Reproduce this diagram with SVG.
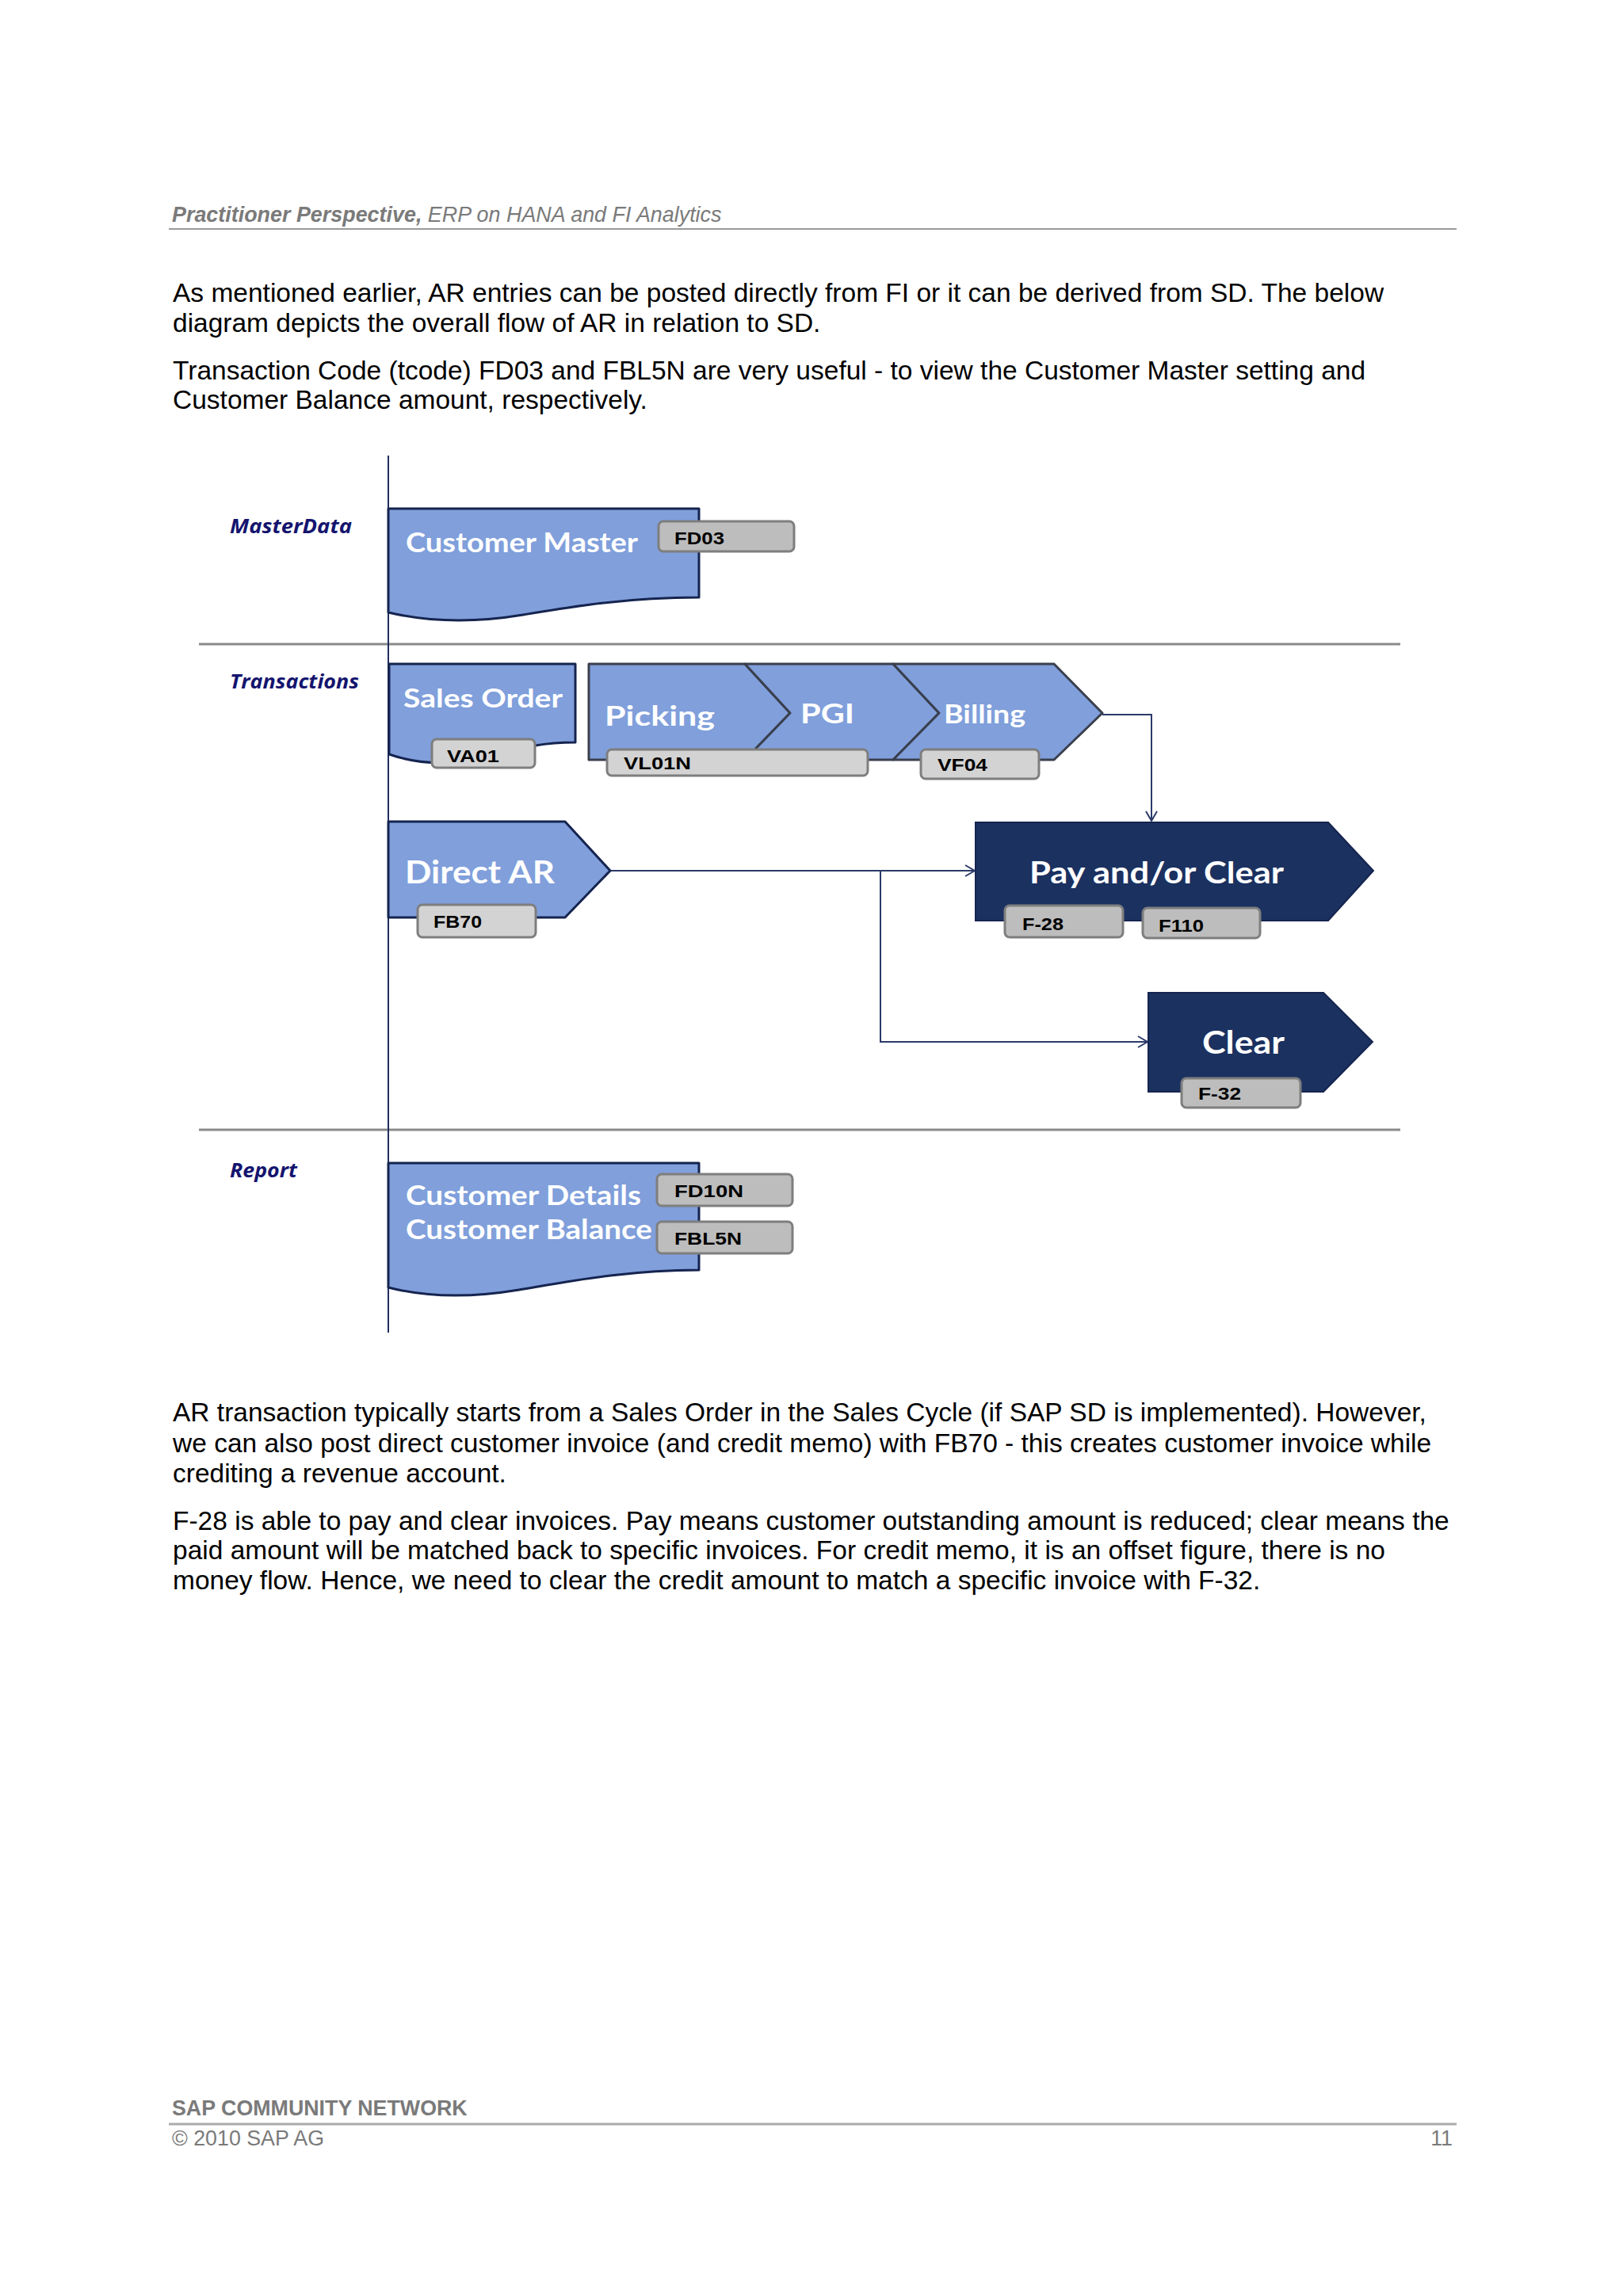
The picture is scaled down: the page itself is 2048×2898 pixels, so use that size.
<svg xmlns="http://www.w3.org/2000/svg" width="2048" height="2898" viewBox="0 0 2048 2898">
<defs>
<marker id="arr" markerWidth="18" markerHeight="18" refX="15" refY="9" orient="auto" markerUnits="userSpaceOnUse"><path d="M3,2 L15,9 L3,16" fill="none" stroke="#2a3a6a" stroke-width="2"/></marker>
<style>
.body{font-family:"Liberation Sans",Arial,sans-serif;font-size:33.5px;fill:#000}
.hdr{font-family:"Liberation Sans",Arial,sans-serif;font-size:26.9px;fill:#7a7a7a;font-style:italic}
.ftr{font-family:"Liberation Sans",Arial,sans-serif;font-size:26.8px;fill:#7a7a7a}
.lane{font-family:"Open Sans","DejaVu Sans",sans-serif;font-weight:bold;font-style:italic;font-size:25px;fill:#14146e}
.lt{fill:#809fdb;stroke:#15244f;stroke-width:3;stroke-linejoin:round}
.ch{fill:#809fdb;stroke:#3a3f4d;stroke-width:3;stroke-linejoin:round}
.dk{fill:#1b3160;stroke:#15244f;stroke-width:2}
.lbl{font-family:Lato,"Open Sans",sans-serif;font-weight:bold;fill:#fff}
.tag{fill:#bdbdbd;stroke:#7e7e7e;stroke-width:3}
.tag2{fill:#d3d3d3;stroke:#7e7e7e;stroke-width:3}
.tt{font-family:"Liberation Sans",Arial,sans-serif;font-weight:bold;font-size:22px;fill:#000}
.conn{fill:none;stroke:#2a3a6a;stroke-width:2}
.div{stroke:#8a8a8a;stroke-width:3}
</style>
</defs>
<rect x="0" y="0" width="2048" height="2898" fill="#fff"/>

<g id="header">
<text class="hdr" x="217" y="280"><tspan font-weight="bold">Practitioner Perspective,</tspan> ERP on HANA and FI Analytics</text>
<line x1="213" y1="289" x2="1838" y2="289" stroke="#9a9a9a" stroke-width="2"/>
</g>

<g id="intro">
<text class="body" x="218" y="381">As mentioned earlier, AR entries can be posted directly from FI or it can be derived from SD. The below</text>
<text class="body" x="218" y="419">diagram depicts the overall flow of AR in relation to SD.</text>
<text class="body" x="218" y="479">Transaction Code (tcode) FD03 and FBL5N are very useful - to view the Customer Master setting and</text>
<text class="body" x="218" y="516">Customer Balance amount, respectively.</text>
</g>

<g id="lanes">
<line class="div" x1="251" y1="813" x2="1767" y2="813"/>
<line class="div" x1="251" y1="1426" x2="1767" y2="1426"/>
<line x1="490" y1="575" x2="490" y2="1682" stroke="#1f2f5f" stroke-width="2"/>
<text class="lane" x="290" y="673" textLength="154" lengthAdjust="spacingAndGlyphs">MasterData</text>
<text class="lane" x="290" y="869" textLength="163" lengthAdjust="spacingAndGlyphs">Transactions</text>
<text class="lane" x="290" y="1486" textLength="85" lengthAdjust="spacingAndGlyphs">Report</text>
</g>

<g id="connectors">
<path class="conn" d="M1391,902 H1453 V1036" marker-end="url(#arr)"/>
<path class="conn" d="M770,1099 H1230" marker-end="url(#arr)"/>
<path class="conn" d="M1111,1099 V1315 H1448" marker-end="url(#arr)"/>
</g>

<g id="customer-master">
<path class="lt" d="M490,642 H882 V754 C790,754 720,766 660,776 C600,786 545,786 490,773 Z"/>
<text class="lbl" x="512" y="697" font-size="34" textLength="293" lengthAdjust="spacingAndGlyphs">Customer Master</text>
<rect class="tag" x="831" y="658" width="171" height="38" rx="6"/>
<text class="tt" x="851" y="687" textLength="63" lengthAdjust="spacingAndGlyphs">FD03</text>
</g>

<g id="sales-order">
<path class="lt" d="M491,838 H726 V937 C670,937 640,950 600,958 C560,966 525,964 491,952 Z"/>
<text class="lbl" x="509" y="893" font-size="32" textLength="201" lengthAdjust="spacingAndGlyphs">Sales Order</text>
<rect class="tag2" x="545" y="933" width="130" height="36" rx="6"/>
<text class="tt" x="564" y="962" textLength="66" lengthAdjust="spacingAndGlyphs">VA01</text>
</g>

<g id="picking">
<polygon class="ch" points="743,838 940,838 997,900 940,959 743,959"/>
<text class="lbl" x="763" y="916" font-size="35" textLength="139" lengthAdjust="spacingAndGlyphs">Picking</text>
</g>
<g id="pgi">
<polygon class="ch" points="940,838 1127,838 1185,900 1127,959 940,959 997,900"/>
<text class="lbl" x="1010" y="913" font-size="35" textLength="68" lengthAdjust="spacingAndGlyphs">PGI</text>
<rect class="tag2" x="766" y="946" width="329" height="33" rx="6"/>
<text class="tt" x="787" y="971" textLength="85" lengthAdjust="spacingAndGlyphs">VL01N</text>
</g>
<g id="billing">
<polygon class="ch" points="1127,838 1330,838 1391,900 1330,959 1127,959 1185,900"/>
<text class="lbl" x="1191" y="913" font-size="33" textLength="103" lengthAdjust="spacingAndGlyphs">Billing</text>
<rect class="tag2" x="1162" y="946" width="149" height="37" rx="6"/>
<text class="tt" x="1183" y="973" textLength="63" lengthAdjust="spacingAndGlyphs">VF04</text>
</g>

<g id="direct-ar">
<polygon class="lt" points="490,1037 713,1037 770,1099 713,1158 490,1158"/>
<text class="lbl" x="511" y="1115" font-size="40" textLength="189" lengthAdjust="spacingAndGlyphs">Direct AR</text>
<rect class="tag2" x="527" y="1142" width="149" height="41" rx="6"/>
<text class="tt" x="547" y="1171" textLength="61" lengthAdjust="spacingAndGlyphs">FB70</text>
</g>

<g id="pay-clear">
<polygon class="dk" points="1231,1038 1676,1038 1733,1099 1676,1162 1231,1162"/>
<text class="lbl" x="1299" y="1115" font-size="38" textLength="321" lengthAdjust="spacingAndGlyphs">Pay and/or Clear</text>
<rect class="tag" x="1268" y="1143" width="149" height="40" rx="6"/>
<text class="tt" x="1290" y="1174" textLength="52" lengthAdjust="spacingAndGlyphs">F-28</text>
<rect class="tag" x="1442" y="1146" width="148" height="38" rx="6"/>
<text class="tt" x="1462" y="1176" textLength="57" lengthAdjust="spacingAndGlyphs">F110</text>
</g>

<g id="clear">
<polygon class="dk" points="1449,1253 1670,1253 1732,1315 1670,1378 1449,1378"/>
<text class="lbl" x="1517" y="1330" font-size="40" textLength="104" lengthAdjust="spacingAndGlyphs">Clear</text>
<rect class="tag" x="1491" y="1361" width="150" height="37" rx="6"/>
<text class="tt" x="1512" y="1388" textLength="54" lengthAdjust="spacingAndGlyphs">F-32</text>
</g>

<g id="customer-report">
<path class="lt" d="M490,1468 H882 V1603 C790,1603 715,1618 655,1628 C595,1638 540,1638 490,1625 Z"/>
<text class="lbl" x="512" y="1521" font-size="34" textLength="297" lengthAdjust="spacingAndGlyphs">Customer Details</text>
<text class="lbl" x="512" y="1564" font-size="34" textLength="311" lengthAdjust="spacingAndGlyphs">Customer Balance</text>
<rect class="tag" x="829" y="1482" width="171" height="40" rx="6"/>
<text class="tt" x="851" y="1511" textLength="87" lengthAdjust="spacingAndGlyphs">FD10N</text>
<rect class="tag" x="829" y="1542" width="171" height="40" rx="6"/>
<text class="tt" x="851" y="1571" textLength="85" lengthAdjust="spacingAndGlyphs">FBL5N</text>
</g>

<g id="explanation">
<text class="body" x="218" y="1794">AR transaction typically starts from a Sales Order in the Sales Cycle (if SAP SD is implemented). However,</text>
<text class="body" x="218" y="1833">we can also post direct customer invoice (and credit memo) with FB70 - this creates customer invoice while</text>
<text class="body" x="218" y="1871">crediting a revenue account.</text>
<text class="body" x="218" y="1931">F-28 is able to pay and clear invoices. Pay means customer outstanding amount is reduced; clear means the</text>
<text class="body" x="218" y="1968">paid amount will be matched back to specific invoices. For credit memo, it is an offset figure, there is no</text>
<text class="body" x="218" y="2006">money flow. Hence, we need to clear the credit amount to match a specific invoice with F-32.</text>
</g>

<g id="footer">
<text class="ftr" x="217" y="2670" font-weight="bold">SAP COMMUNITY NETWORK</text>
<line x1="213" y1="2681" x2="1838" y2="2681" stroke="#ababab" stroke-width="3"/>
<text class="ftr" x="217" y="2708">© 2010 SAP AG</text>
<text class="ftr" x="1833" y="2708" text-anchor="end">11</text>
</g>
</svg>
